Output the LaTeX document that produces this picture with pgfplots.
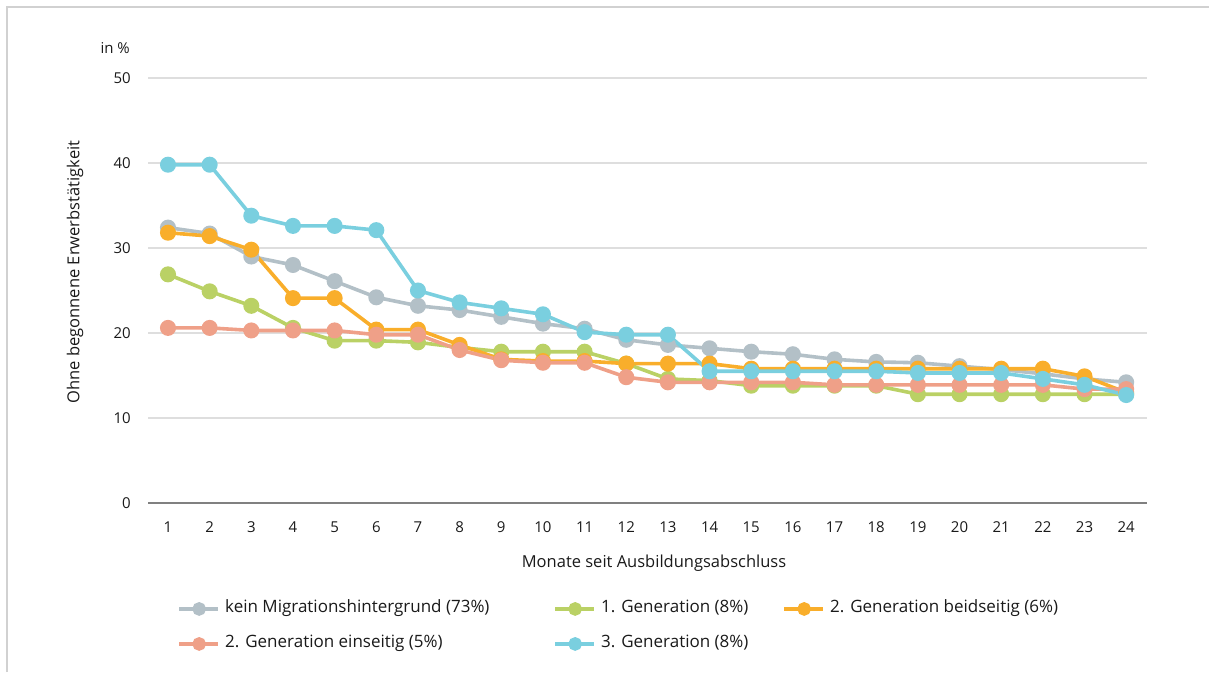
\documentclass[border=0pt]{standalone}
\usepackage{fontspec}
\setmainfont{Open Sans}
\usepackage{pgfplots}
\pgfplotsset{compat=1.18}
\definecolor{cgray}{HTML}{B3C0C7}
\definecolor{cgreen}{HTML}{BAD165}
\definecolor{corange}{HTML}{F9AE2B}
\definecolor{csalmon}{HTML}{EFA088}
\definecolor{ccyan}{HTML}{7ACFDF}
\definecolor{txt}{HTML}{1A1A1A}
\begin{document}
\begin{tikzpicture}[x=1pt,y=1pt]
\useasboundingbox (0,0) rectangle (1209,672);
\draw[line width=2pt, color=black!18] (7,0) -- (7,665) -- (1209,665);
\begin{axis}[
  at={(148pt,169pt)}, anchor=south west,
  scale only axis, width=999pt, height=425pt,
  xmin=0.52, xmax=24.5, ymin=0, ymax=50,
  xtick={1,...,24}, ytick={0,10,...,50},
  axis x line=bottom, axis y line=left,
  x axis line style={-, draw=black!50, line width=1.3pt},
  y axis line style={draw=none},
  major tick length=0pt,
  ymajorgrids, grid style={color=black!13, line width=1.3pt},
  /pgf/number format/assume math mode=true,
  tick label style={font=\fontsize{15}{18}\selectfont, text=txt},
  yticklabel style={anchor=east, inner sep=0pt, xshift=-17pt},
  xticklabel style={anchor=north, inner sep=0pt, yshift=-18.5pt},
  xlabel={Monate seit Ausbildungsabschluss},
  ylabel={Ohne begonnene Erwerbstätigkeit},
  label style={font=\fontsize{16.5}{19}\selectfont, text=txt},
  xlabel style={at={(axis description cs:0.5065,0)}, anchor=center, yshift=-60pt},
  ylabel style={at={(axis description cs:-0.0731,0.5435)}, anchor=center},
  legend columns=3,
  legend style={draw=none, at={(axis description cs:0.029,-0.230)}, anchor=north west,
    inner sep=0pt, font=\fontsize{17}{20}\selectfont, text=txt,
    nodes={inner sep=0pt, text height=12pt, text depth=4pt},
    row sep=19pt,
    /tikz/every odd column/.append style={column sep=5pt},
    /tikz/every even column/.append style={column sep=0pt}},
  legend cell align=left,
  legend image code/.code={\draw[#1, line width=4pt, mark=none] (0pt,0pt) -- (39pt,0pt); \fill[#1] (20pt,0pt) circle (5pt);},
  every axis plot/.append style={line width=3.6pt, mark=*, mark size=6.2pt, mark options={draw=none}},
]
\addplot[color=cgray] coordinates {
(1,32.4)(2,31.7)(3,29.0)(4,28.0)(5,26.1)(6,24.2)(7,23.2)(8,22.7)(9,21.9)(10,21.1)(11,20.5)(12,19.2)
(13,18.6)(14,18.2)(15,17.8)(16,17.5)(17,16.9)(18,16.6)(19,16.5)(20,16.1)(21,15.7)(22,15.2)(23,14.6)(24,14.2)};
\addlegendentry{\makebox[328pt][l]{kein Migrationshintergrund (73\%)}}
\addplot[color=cgreen] coordinates {
(1,26.9)(2,24.9)(3,23.2)(4,20.6)(5,19.1)(6,19.1)(7,18.9)(8,18.3)(9,17.8)(10,17.8)(11,17.8)(12,16.4)
(13,14.6)(14,14.4)(15,13.8)(16,13.8)(17,13.8)(18,13.8)(19,12.8)(20,12.8)(21,12.8)(22,12.8)(23,12.8)(24,12.8)};
\addlegendentry{\makebox[181pt][l]{1. Generation (8\%)}}
\addplot[color=corange] coordinates {
(1,31.8)(2,31.4)(3,29.8)(4,24.1)(5,24.1)(6,20.4)(7,20.4)(8,18.6)(9,16.9)(10,16.7)(11,16.7)(12,16.4)
(13,16.4)(14,16.4)(15,15.8)(16,15.8)(17,15.8)(18,15.8)(19,15.8)(20,15.8)(21,15.8)(22,15.8)(23,14.9)(24,13.0)};
\addlegendentry{2. Generation beidseitig (6\%)}
\addplot[color=csalmon] coordinates {
(1,20.6)(2,20.6)(3,20.3)(4,20.3)(5,20.3)(6,19.8)(7,19.8)(8,18.0)(9,16.8)(10,16.5)(11,16.5)(12,14.8)
(13,14.2)(14,14.2)(15,14.2)(16,14.2)(17,13.9)(18,13.9)(19,13.9)(20,13.9)(21,13.9)(22,13.9)(23,13.4)(24,13.4)};
\addlegendentry{\makebox[328pt][l]{2. Generation einseitig (5\%)}}
\addplot[color=ccyan] coordinates {
(1,39.8)(2,39.8)(3,33.8)(4,32.6)(5,32.6)(6,32.1)(7,25.0)(8,23.6)(9,22.9)(10,22.2)(11,20.1)(12,19.8)
(13,19.8)(14,15.5)(15,15.5)(16,15.5)(17,15.5)(18,15.5)(19,15.3)(20,15.3)(21,15.3)(22,14.6)(23,13.9)(24,12.7)};
\addlegendentry{\makebox[181pt][l]{3. Generation (8\%)}}
\end{axis}
\node[anchor=east, inner sep=0pt, font=\fontsize{15}{18}\selectfont, text=txt] at (130,624) {in \%};
\end{tikzpicture}
\end{document}
